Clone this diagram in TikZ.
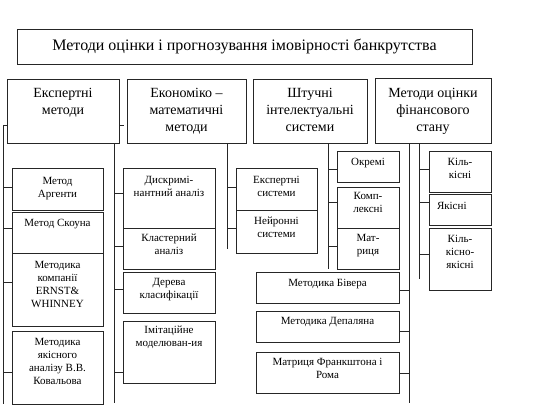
\documentclass[tikz,border=0pt]{standalone}
\usepackage{fontspec}
\setmainfont{Liberation Serif}
\pgfdeclarelayer{background}
\pgfsetlayers{background,main}
\tikzset{
  box/.style={draw=black!85, line width=0.9pt, fill=white, inner sep=0pt, outer sep=0pt},
  lvl/.style={font=\fontsize{14}{17}\selectfont},
  kid/.style={font=\fontsize{11}{13}\selectfont},
  conn/.style={draw=black!85, line width=0.9pt}
}
% name, x1, y1, x2, y2, top pad, text
\newcommand\bx[8]{%
  \node[box,#1,anchor=north west] (#2) at (#3,#4)
    {\parbox[c][\dimexpr #6pt-#4pt\relax][t]{\dimexpr #5pt-#3pt\relax}{\centering\vspace*{#7pt}#8\par}};}
\newcommand\tk[3]{\path (0,#3) coordinate (tmp); \draw[conn] (#1 |- tmp) -- (#2 |- tmp);}
\begin{document}
\begin{tikzpicture}[x=1pt,y=-1pt]
\useasboundingbox (0,0) rectangle (550,420);
% title
\node[box,anchor=north west,minimum width=455pt,minimum height=35pt,font=\fontsize{16}{19}\selectfont] (title) at (17,29)
  {Методи оцінки і прогнозування імовірності банкрутства};
% level 2
\bx{lvl}{e1}{7}{79}{119}{143}{9}{Експертні\\методи}
\bx{lvl}{e2}{127}{79}{246}{143}{9}{Економіко –\\математичні\\методи}
\bx{lvl}{e3}{253}{79}{367}{143}{9}{Штучні\\інтелектуальні\\системи}
\bx{lvl}{e4}{375}{78}{491}{143}{10}{Методи оцінки\\фінансового\\стану}
% expert methods
\bx{kid}{a1}{12}{168}{103}{210}{9}{Метод\\Аргенти}
\bx{kid}{a2}{12}{212}{103}{253}{7}{Метод Скоуна}
\bx{kid}{a3}{12}{253}{103}{326}{8}{Методика\\компанії\\ERNST\&\\WHINNEY}
\bx{kid}{a4}{12}{331}{103}{404}{7}{Методика\\якісного\\аналізу В.В.\\Ковальова}
% econ-math
\bx{kid}{b1}{123}{168}{215}{228}{8}{Дискримі-\\нантний аналіз}
\bx{kid}{b2}{123}{228}{215}{269}{6}{Кластерний\\аналіз}
\bx{kid}{b3}{123}{272}{215}{313}{6}{Дерева\\класифікації}
\bx{kid}{b4}{123}{321}{215}{383}{5}{Імітаційне\\моделюван-ия}
% AI systems
\bx{kid}{c1}{236}{168}{317}{210}{8}{Експертні\\системи}
\bx{kid}{c2}{236}{210}{317}{253}{7}{Нейронні\\системи}
\bx{kid}{d1}{337}{151}{399}{182}{7}{Окремі}
\bx{kid}{d2}{337}{187}{399}{228}{5}{Комп-\\лексні}
\bx{kid}{d3}{337}{228}{399}{269}{6}{Мат-\\риця}
\bx{kid}{f1}{256}{272}{399}{303}{7}{Методика Бівера}
\bx{kid}{f2}{256}{311}{399}{342}{6}{Методика Депаляна}
\bx{kid}{f3}{256}{352}{399}{393}{6}{Матриця Франкштона і\\Рома}
% financial state
\bx{kid}{g1}{429}{151}{491}{192}{7}{Кіль-\\кісні}
\bx{kid}{g2}{429}{194}{491}{225}{8}{\raggedright\hspace*{8pt}Якісні}
\bx{kid}{g3}{429}{228}{491}{290}{7}{Кіль-\\кісно-\\якісні}
% trunks
\coordinate (T1a) at (3,125);   \coordinate (T1b) at (3,404);
\coordinate (T2a) at (114,125); \coordinate (T2b) at (114,403); \coordinate (T2t) at (124,125);
\coordinate (T3b) at (227,249);
\coordinate (T4b) at (328,269);
\coordinate (T5b) at (409,403);
\coordinate (T6b) at (419,279);
\begin{pgfonlayer}{background}
\draw[conn] (T1a) -- (T1b);
\tk{T1a}{e1.west}{125}
\draw[conn] (T2a) -- (T2b);
\draw[conn] (T2a) -- (T2t);
\draw[conn] (T3b |- e2.south) -- (T3b);
\draw[conn] (T4b |- e3.south) -- (T4b);
\draw[conn] (T5b |- e4.south) -- (T5b);
\draw[conn] (T6b |- e4.south) -- (T6b);
\tk{T1b}{a1.west}{187}
\tk{T1b}{a2.west}{228}
\tk{T1b}{a3.west}{282}
\tk{T1b}{a4.west}{372}
\tk{T2b}{b1.west}{193}
\tk{T2b}{b2.west}{246}
\tk{T2b}{b3.west}{289}
\tk{T2b}{b4.west}{372}
\tk{T3b}{c1.west}{187}
\tk{T3b}{c2.west}{228}
\tk{T4b}{d1.west}{169}
\tk{T4b}{d2.west}{202}
\tk{T4b}{d3.west}{246}
\tk{T5b}{f1.east}{290}
\tk{T5b}{f2.east}{331}
\tk{T5b}{f3.east}{373}
\tk{T6b}{g1.west}{169}
\tk{T6b}{g2.west}{202}
\tk{T6b}{g3.west}{254}
\end{pgfonlayer}
\end{tikzpicture}
\end{document}
